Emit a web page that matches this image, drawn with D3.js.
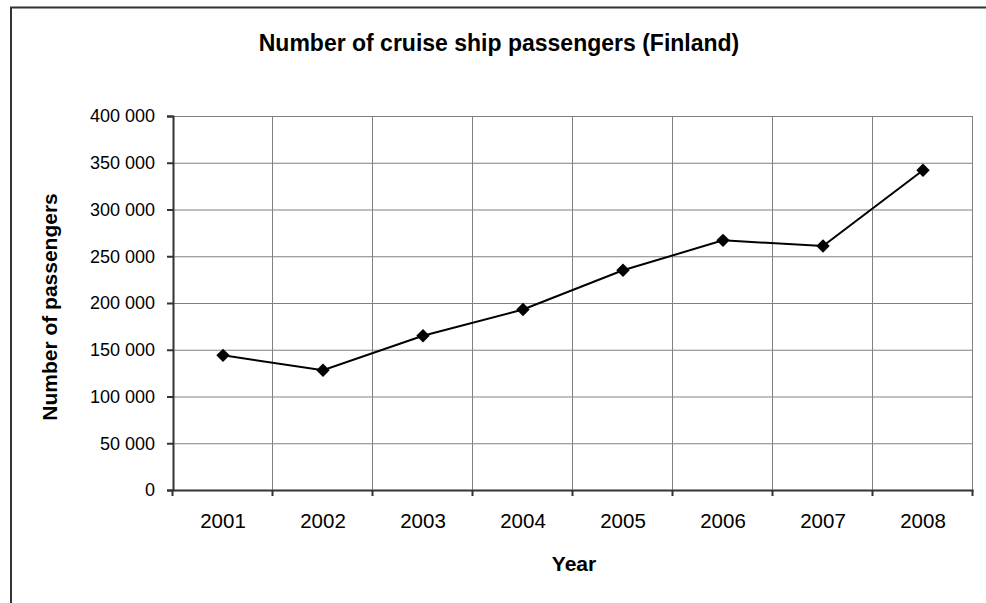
<!DOCTYPE html>
<html><head><meta charset="utf-8">
<script src="https://cdn.jsdelivr.net/npm/d3@7"></script>
<style>body{margin:0;background:#fff}svg{display:block;font-family:"Liberation Sans",Arial,sans-serif}</style>
</head><body><svg id="c" width="986" height="603"></svg>
<script>
const years = ["2001","2002","2003","2004","2005","2006","2007","2008"];
const passengers = [144000, 128000, 165000, 193000, 235000, 267000, 261000, 342000];
const yTicks = [0, 50000, 100000, 150000, 200000, 250000, 300000, 350000, 400000];

const svg = d3.select("#c");
const L = 173, R = 973, T = 116, B = 490;
const x = d3.scaleBand().domain(years).range([L, R]);
const y = d3.scaleLinear().domain([0, 400000]).range([B, T]);
const fmt = v => d3.format(",")(v).replace(/,/g, " ");
const FF = "Liberation Sans, Arial, sans-serif";

// outer border
svg.append("rect").attr("x", 11).attr("y", 7.5).attr("width", 990).attr("height", 610)
  .attr("fill", "none").attr("stroke", "#333").attr("stroke-width", 2);

// title
svg.append("text").attr("x", 499).attr("y", 51).attr("text-anchor", "middle")
  .attr("font-size", 23).attr("font-weight", "bold").text("Number of cruise ship passengers (Finland)");

// horizontal grid
svg.append("g").selectAll("line").data(yTicks.slice(1)).join("line")
  .attr("x1", L).attr("x2", R).attr("y1", d => y(d) + 0.5).attr("y2", d => y(d) + 0.5)
  .attr("stroke", "#808080").attr("stroke-width", 1);
// vertical grid at category boundaries
const bounds = years.slice(1).map(d => x(d)).concat([R]);
svg.append("g").selectAll("line").data(bounds).join("line")
  .attr("x1", d => d - 0.5).attr("x2", d => d - 0.5).attr("y1", T).attr("y2", B)
  .attr("stroke", "#808080").attr("stroke-width", 1);

// y axis
const yAxis = svg.append("g").attr("transform", `translate(${L},0)`)
  .call(d3.axisLeft(y).tickValues(yTicks).tickFormat(fmt).tickSize(6).tickPadding(12));
yAxis.select(".domain").attr("stroke", "#333").attr("stroke-width", 2);
yAxis.selectAll(".tick line").attr("stroke", "#333").attr("stroke-width", 2);
yAxis.selectAll(".tick text").attr("font-size", 18).attr("fill", "#000")
  .attr("font-family", FF);

// x axis
const xAxis = svg.append("g").attr("transform", `translate(0,${B})`)
  .call(d3.axisBottom(x).tickSize(0).tickPadding(22));
xAxis.select(".domain").attr("stroke", "#333").attr("stroke-width", 2);
xAxis.selectAll(".tick text").attr("font-size", 20.5).attr("fill", "#000")
  .attr("font-family", FF).attr("dy", null).attr("y", 38);
svg.append("g").selectAll("line").data([L].concat(bounds)).join("line")
  .attr("x1", d => d - 0.5).attr("x2", d => d - 0.5).attr("y1", B).attr("y2", B + 6)
  .attr("stroke", "#333").attr("stroke-width", 2);

// axis titles
svg.append("text").attr("x", 574).attr("y", 571).attr("text-anchor", "middle")
  .attr("font-size", 21).attr("font-weight", "bold").text("Year");
svg.append("text").attr("transform", "translate(57,307) rotate(-90)").attr("text-anchor", "middle")
  .attr("font-size", 21).attr("font-weight", "bold").text("Number of passengers");

// line
const cx = d => x(d) + x.bandwidth() / 2;
svg.append("path").datum(passengers)
  .attr("d", d3.line().x((d, i) => cx(years[i])).y(d => y(d)))
  .attr("fill", "none").attr("stroke", "#000").attr("stroke-width", 2);
svg.append("g").selectAll("path").data(passengers).join("path")
  .attr("d", d3.symbol(d3.symbolSquare, 90))
  .attr("transform", (d, i) => `translate(${cx(years[i])},${y(d)}) rotate(45)`)
  .attr("fill", "#000");
</script></body></html>
